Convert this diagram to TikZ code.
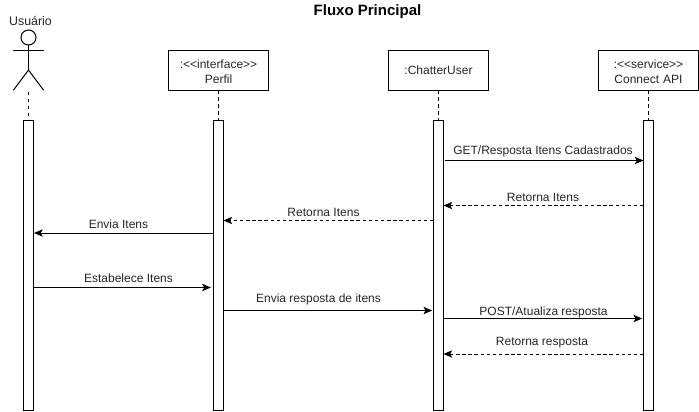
\documentclass[tikz,border=0pt]{standalone}
\usepackage{fontspec}
\setmainfont{Liberation Sans}
\usetikzlibrary{arrows.meta}
\newcommand{\llt}{<\kern0pt<}
\newcommand{\ggt}{>\kern0pt>}
\newcommand{\topgap}{\rule{0pt}{8pt}}
\tikzset{
  x=0.75pt,y=-0.75pt,
  every node/.style={font=\fontsize{9}{10.5}\selectfont,text=black!85,inner sep=0pt,outer sep=0pt},
  lifebox/.style={draw=black,line width=0.75pt,fill=white,minimum width=75pt,minimum height=30pt,align=center,text width=75pt},
  bar/.style={draw=black,line width=0.75pt,fill=white,minimum width=7.5pt,minimum height=217.9pt},
  lifeline/.style={line width=0.75pt,dash pattern=on 2.6pt off 2.6pt},
  msg/.style={line width=0.75pt,-{Stealth[length=6.5pt,width=5.5pt,inset=1.5pt]}},
  ret/.style={msg,dash pattern=on 2.6pt off 2pt},
  actorline/.style={line width=0.75pt,line cap=round},
  lbl/.style={anchor=center}
}
\begin{document}
\begin{tikzpicture}
\useasboundingbox (0,0) rectangle (699,411);
\fill[white] (0,0) rectangle (699,411);
\node[font=\fontsize{11.25}{13}\selectfont\bfseries,text=black] (title) at (367.5,12) {Fluxo Principal};
% actor
\node[font=\fontsize{9.3}{11}\selectfont] (userlabel) at (30.5,21) {Usuário};
\draw[actorline] (28.5,37.5) circle[radius=7.5];
\draw[actorline] (13.5,50) -- (43.5,50);
\draw[actorline] (28.5,45) -- (28.5,70);
\draw[actorline] (13.5,90) -- (28.5,70) -- (43.5,90);
\coordinate (actorfoot) at (28.5,90);
% boxes
\node[lifebox] (perfil) at (218.5,70.5) {\topgap:\llt interface\ggt\\[1pt]Perfil};
\node[lifebox] (chatter) at (438.5,70.5) {:ChatterUser};
\node[lifebox] (api) at (648.5,70.5) {\topgap:\llt service\ggt\\[1pt]Connect API};
% bars
\node[bar] (b1) at (28.5,265.3) {};
\node[bar] (b2) at (218.5,265.3) {};
\node[bar] (b3) at (438.5,265.3) {};
\node[bar] (b4) at (648.5,265.3) {};
% lifelines
\draw[lifeline] (actorfoot) ++(0,2) -- (b1.north);
\draw[lifeline] (perfil.south) -- (b2.north);
\draw[lifeline] (chatter.south) -- (b3.north);
\draw[lifeline] (api.south) -- (b4.north);
% messages
\draw[msg] ([xshift=1.2pt]b3.east |- 0,160.5) -- (b4.west |- 0,160.5);
\node[lbl] (m1) at (543,151.5) {GET/Resposta Itens Cadastrados};
\draw[ret] (b4.west |- 0,205.5) -- (b3.east |- 0,205.5);
\node[lbl] (m2) at (543,197.5) {Retorna Itens};
\draw[ret] (b3.west |- 0,220.5) -- (b2.east |- 0,220.5);
\node[lbl] (m3) at (323.5,212) {Retorna Itens};
\draw[msg] (b2.west |- 0,233) -- ([xshift=0.4pt]b1.east |- 0,233);
\node[lbl] (m4) at (118.5,224) {Envia Itens};
\draw[msg] (b1.east |- 0,287.5) -- ([xshift=-2pt]b2.west |- 0,287.5);
\node[lbl] (m5) at (128.5,278.5) {Estabelece Itens};
\draw[msg] (b2.east |- 0,310.5) -- ([xshift=-1pt]b3.west |- 0,310.5);
\node[lbl] (m6) at (318.5,299) {Envia resposta de itens};
\draw[msg] (b3.east |- 0,318.5) -- ([xshift=-1pt]b4.west |- 0,318.5);
\node[lbl] (m7) at (543.5,312) {POST/Atualiza resposta};
\draw[ret] (b4.west |- 0,354) -- (b3.east |- 0,354);
\node[lbl] (m8) at (542,343) {Retorna resposta};
\end{tikzpicture}
\end{document}
